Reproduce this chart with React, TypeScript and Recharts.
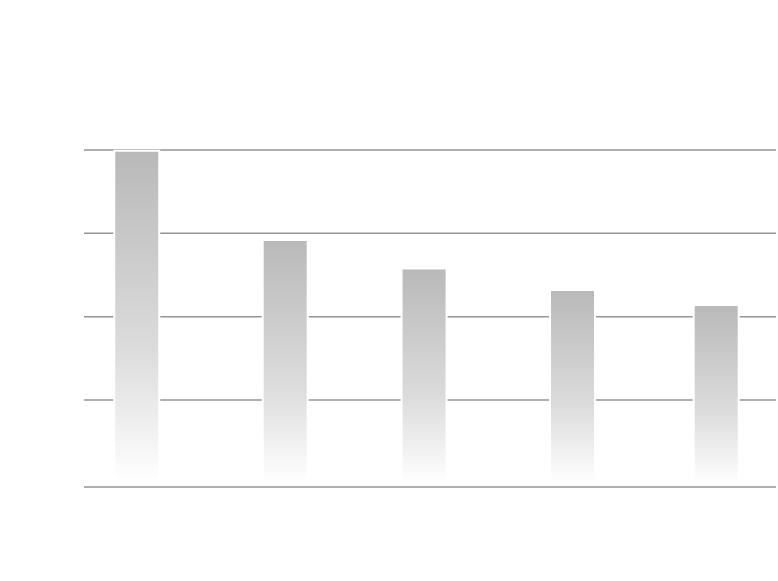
import { BarChart, Bar, XAxis, YAxis, CartesianGrid } from "recharts";

// bars sit on the first day of each month (leap year), x is days since 1 Jan
const dayOffsets = [0, 31, 60, 91, 121];
const values = [399, 292, 258, 232, 214];
const yTicks = [100, 200, 300, 400];

const data = dayOffsets.map((day, i) => ({ day, value: values[i] }));

if (typeof document !== "undefined") document.body.style.margin = "0";

export default function App() {
  return (
    <BarChart
      width={778}
      height={581}
      data={data}
      margin={{ top: 150, right: 2, bottom: 94, left: 84 }}
    >
      <defs>
        <linearGradient id="greyFade" x1="0" y1="0" x2="0" y2="1">
          <stop offset="0%" stopColor="#b9b9b9" />
          <stop offset="60%" stopColor="#dcdcdc" />
          <stop offset="100%" stopColor="#ffffff" />
        </linearGradient>
      </defs>
      <CartesianGrid vertical={false} stroke="#949494" strokeWidth={1.5} />
      <XAxis
        dataKey="day"
        type="number"
        domain={[-11, 133.5]}
        tick={false}
        tickLine={false}
        height={0}
        axisLine={{ stroke: "#858585", strokeWidth: 2 }}
      />
      <YAxis hide domain={[-4.2, 400]} ticks={yTicks} width={0} />
      <Bar
        dataKey="value"
        barSize={45}
        fill="url(#greyFade)"
        stroke="#ffffff"
        strokeWidth={2}
        isAnimationActive={false}
      />
    </BarChart>
  );
}
